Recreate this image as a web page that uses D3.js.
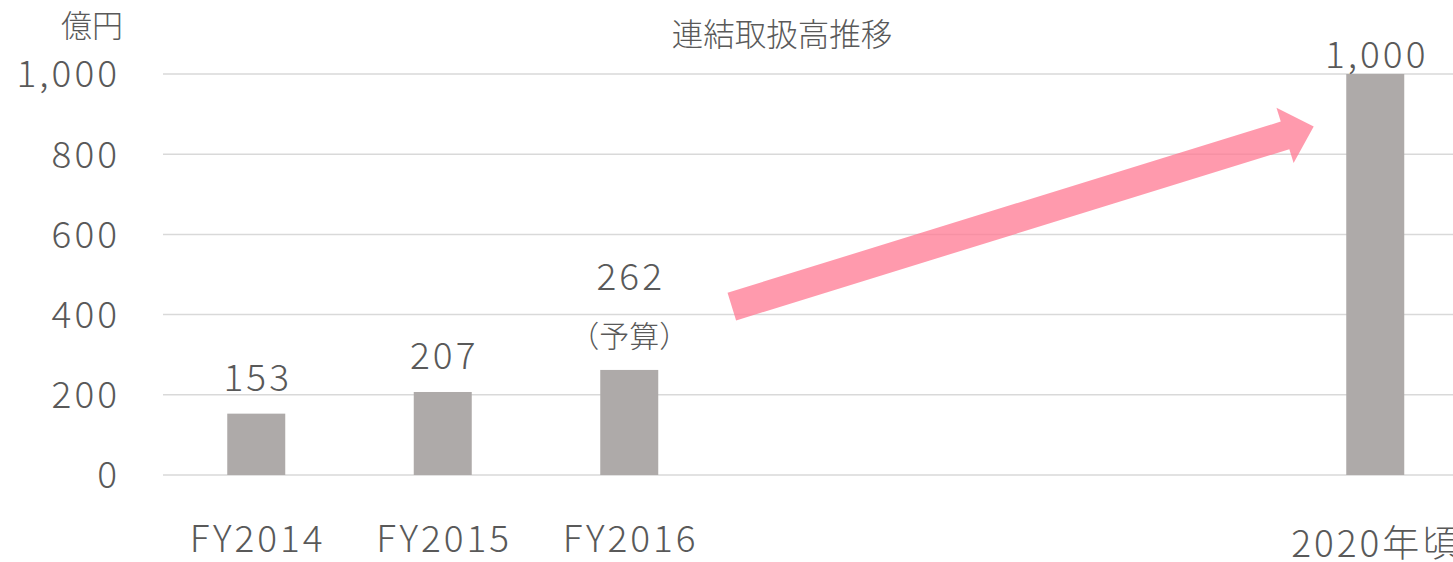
<!DOCTYPE html>
<html><head><meta charset="utf-8">
<script src="https://cdn.jsdelivr.net/npm/d3@7"></script>
<style>
html,body{margin:0;padding:0;background:#fff;}
svg{display:block;font-family:"Noto Sans CJK JP","Noto Sans",sans-serif;font-weight:300;}
</style></head>
<body><svg id="c" width="1453" height="562"></svg>
<script>
const title = "連結取扱高推移";
const unitLabel = "億円";
const categories = ["FY2014","FY2015","FY2016","","","","2020年頃"];
const values = [153, 207, 262, null, null, null, 1000];
const valueLabels = [["153"],["207"],["262","（予算）"],null,null,null,["1,000"]];
const yTicks = [0,200,400,600,800,1000];
// arrow annotation: positions in category-index units and value units
const arrowFrom = {idx: 3.05, value: 420};
const arrowTo = {idx: 6.17, value: 869};

const svg = d3.select("#c");
const textColor = "#595959";
const fontFam = '"Noto Sans CJK JP","Noto Sans",sans-serif';
const ls = 3; // letter spacing
const fs = 37; // numeric font size
const m = {left:163, top:74, bottom:475};
const step = 186.5;
const x = d3.scaleBand().domain(d3.range(categories.length))
  .range([m.left, m.left + step*categories.length])
  .paddingInner(0.689).paddingOuter(0.3445);
const xi = d3.scaleLinear().domain([0, categories.length]).range([m.left, m.left + step*categories.length]);
const y = d3.scaleLinear().domain([0,1000]).range([m.bottom, m.top]);

// gridlines
svg.append("g").selectAll("line").data(yTicks).join("line")
  .attr("x1", m.left).attr("x2", 1453)
  .attr("y1", d=>y(d)).attr("y2", d=>y(d))
  .attr("stroke", "#d9d9d9").attr("stroke-width", 1.5);

// y tick labels
const yAxis = d3.axisLeft(y).tickValues(yTicks).tickFormat(d3.format(",")).tickSize(0).tickPadding(0);
const ga = svg.append("g").attr("transform", `translate(${117+ls},0)`).call(yAxis);
ga.attr("font-family", fontFam).attr("font-size", fs);
ga.select(".domain").remove();
ga.selectAll("text").attr("fill", textColor).style("font-weight","300").attr("dy","0.35em").style("letter-spacing", ls+"px");

// bars
const barData = values.map((v,i)=>({i,v})).filter(d=>d.v!=null);
svg.append("g").selectAll("rect").data(barData).join("rect")
  .attr("x", d=>x(d.i)).attr("width", x.bandwidth())
  .attr("y", d=>y(d.v)).attr("height", d=>y(0)-y(d.v))
  .attr("fill", "#aeaaa9");

// value labels
const lbl = svg.append("g").attr("fill", textColor).attr("text-anchor","middle");
barData.forEach(d=>{
  const lines = valueLabels[d.i];
  const cx = x(d.i) + x.bandwidth()/2;
  const num = (yy, t) => lbl.append("text").attr("x", cx + ls/2).attr("y", yy).style("font-size", fs+"px").style("letter-spacing", ls+"px").text(t);
  if (d.v >= 1000) {
    num(y(d.v) - 6, lines[0]);
  } else if (lines.length === 2) {
    num(y(d.v) - 80, lines[0]);
    lbl.append("text").attr("x", cx).attr("y", y(d.v) - 23).style("font-size","30px").text(lines[1]);
  } else {
    num(y(d.v) - 23, lines[0]);
  }
});

// category labels
svg.append("g").selectAll("text").data(categories.map((c,i)=>({c,i})).filter(d=>d.c)).join("text")
  .attr("x", d=>x(d.i)+x.bandwidth()/2 + ls/2)
  .attr("y", d=>/年/.test(d.c) ? 557 : 552)
  .attr("text-anchor","middle").attr("fill", textColor)
  .style("font-size", fs+"px").style("letter-spacing", ls+"px")
  .text(d=>d.c);

// title & unit
svg.append("text").attr("x", 782).attr("y", 46).attr("text-anchor","middle").attr("fill",textColor).style("font-size","31.5px").text(title);
svg.append("text").attr("x", 92).attr("y", 37).attr("text-anchor","middle").attr("fill",textColor).style("font-size","31px").text(unitLabel);

// arrow
const x0 = xi(arrowFrom.idx), y0 = y(arrowFrom.value), x1 = xi(arrowTo.idx), y1 = y(arrowTo.value);
const L = Math.hypot(x1-x0, y1-y0);
const ang = Math.atan2(y1-y0, x1-x0)*180/Math.PI;
const hw = 14.5, hh = 29, hl = 30;
const pts = [[0,-hw],[L-hl,-hw],[L-hl,-hh],[L,0],[L-hl,hh],[L-hl,hw],[0,hw]];
svg.append("path")
  .attr("d", d3.line()(pts) + "Z")
  .attr("transform", `translate(${x0},${y0}) rotate(${ang})`)
  .attr("fill", "rgb(255,120,145)").attr("fill-opacity", 0.75);
</script></body></html>
